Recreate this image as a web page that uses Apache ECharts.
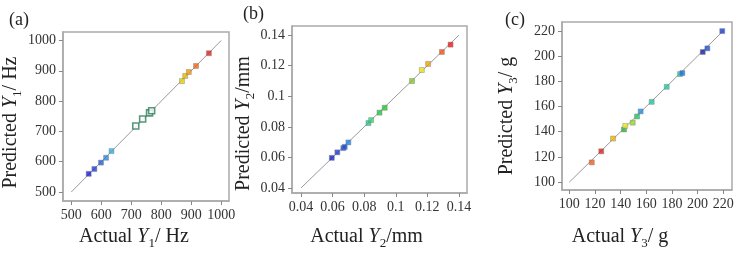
<!DOCTYPE html>
<html>
<head>
<meta charset="utf-8">
<script src="https://cdn.jsdelivr.net/npm/echarts@6/dist/echarts.min.js"></script>
<style>
  html, body { margin: 0; padding: 0; background: #fff; }
  #chart { width: 741px; height: 255px; }
</style>
</head>
<body>
<div id="chart"></div>
<script>
// (a) Y1 / Hz
const actualA = [558, 577, 599, 616, 634, 715, 738, 761, 768, 869, 880, 892, 916, 959];
const predA = [560, 576, 597, 613, 635, 718, 741, 761, 768, 866, 883, 896, 916, 958];
const hollowA = [5, 6, 7, 8];
const ticksA = [500, 600, 700, 800, 900, 1000];
// (b) Y2 / mm
const actualB = [0.0595, 0.0630, 0.0668, 0.0677, 0.0700, 0.0827, 0.0844, 0.0897, 0.0930, 0.1103, 0.1165, 0.1205, 0.1292, 0.1347];
const predB = [0.0597, 0.0633, 0.0661, 0.0669, 0.0698, 0.0825, 0.0844, 0.0893, 0.0925, 0.1100, 0.1172, 0.1212, 0.1290, 0.1338];
const ticksB = [0.04, 0.06, 0.08, 0.1, 0.12, 0.14];
// (c) Y3 / g
const actualC = [117.5, 124.9, 134.1, 142.6, 143.6, 149.4, 152.8, 155.6, 164.2, 175.9, 186.3, 188.1, 204.0, 207.6, 219.2];
const predC = [115.7, 124.5, 134.6, 141.8, 144.6, 147.2, 152.1, 156.1, 163.7, 175.6, 185.7, 186.5, 203.2, 206.1, 219.8];
const ticksC = [100, 120, 140, 160, 180, 200, 220];

// 点的颜色
const colorsA = ['#1a1ad6', '#1a3fd6', '#1f5fd8', '#2a86dc', '#2cb3dc', '#fff', '#fff', '#fff', '#fff',
  '#e6d000', '#f0b400', '#f09600', '#f06414', '#e61e1e'];
const colorsB = ['#1420c8', '#1a3cd6', '#1a50d6', '#1a50d6', '#1e82e6', '#1ec896', '#32d278', '#1ec83c',
  '#1ec828', '#82c81e', '#e6e614', '#f0a000', '#f05014', '#f01414'];
const colorsC = ['#f05a1e', '#e01e1e', '#f0b400', '#1eb43c', '#e6e61e', '#96d21e', '#1ec864', '#1e8ce6',
  '#1ec8a0', '#1ec8a0', '#1ec8a0', '#1e6ee6', '#1420a0', '#1a50d6', '#1a3cd6'];

const serif = 'Liberation Serif';
const rich = {
  t: { fontFamily: serif, fontSize: 20, color: '#222', lineHeight: 26 },
  i: { fontFamily: serif, fontSize: 20, color: '#222', lineHeight: 26, fontStyle: 'italic' },
  s: { fontFamily: serif, fontSize: 13, color: '#222', lineHeight: 14, verticalAlign: 'bottom' }
};

function axis(idx, min, max, ticks, name, gap, pad, rotate) {
  return {
    gridIndex: idx, type: 'value', min: min, max: max,
    name: name, nameLocation: 'middle', nameGap: gap, nameRotate: rotate,
    nameTextStyle: { rich: rich, padding: pad },
    axisLine: { show: true, lineStyle: { color: '#aaa', width: 1.5 } },
    axisTick: { show: true, length: 4, customValues: ticks, lineStyle: { color: '#888' } },
    axisLabel: {
      customValues: ticks, fontFamily: serif, fontSize: 14, color: '#333', margin: 7,
      formatter: v => String(v)
    },
    splitLine: { show: false }
  };
}

function pts(xs, ys) {
  return xs.map((x, i) => [x, ys[i]]);
}

function scatter(idx, xs, ys, colors, hollow) {
  hollow = hollow || [];
  return {
    type: 'scatter', xAxisIndex: idx, yAxisIndex: idx, symbol: 'rect', z: 3,
    data: pts(xs, ys).map((p, i) => {
      const h = hollow.indexOf(i) >= 0;
      return {
        value: p,
        symbolSize: h ? 6 : 5,
        itemStyle: {
          color: colors[i],
          borderColor: h ? '#2e7d5b' : '#777',
          borderWidth: h ? 1.6 : 0.5
        }
      };
    })
  };
}

function diag(idx, lo, hi) {
  return {
    type: 'line', xAxisIndex: idx, yAxisIndex: idx, symbol: 'none', z: 2,
    lineStyle: { color: '#999', width: 1 },
    data: [[lo, lo], [hi, hi]]
  };
}

const chart = echarts.init(document.getElementById('chart'));
chart.setOption({
  animation: false,
  title: [
    { text: '(a)', left: 4, top: 6, textStyle: { fontFamily: serif, fontSize: 18, fontWeight: 'normal', color: '#222' } },
    { text: '(b)', left: 238, top: 0, textStyle: { fontFamily: serif, fontSize: 18, fontWeight: 'normal', color: '#222' } },
    { text: '(c)', left: 500, top: 6, textStyle: { fontFamily: serif, fontSize: 18, fontWeight: 'normal', color: '#222' } }
  ],
  grid: [
    { left: 57, top: 32, width: 172, height: 174, show: true, borderColor: '#aaa', borderWidth: 1.5 },
    { left: 292, top: 26, width: 175, height: 174, show: true, borderColor: '#aaa', borderWidth: 1.5 },
    { left: 562, top: 22, width: 170, height: 172, show: true, borderColor: '#aaa', borderWidth: 1.5 }
  ],
  xAxis: [
    axis(0, 472, 1026, ticksA, '{t|Actual }{i|Y}{s|1}{t|/ Hz}', 22, [0, 24, 0, 0], 0),
    axis(1, 0.0343, 0.1451, ticksB, '{t|Actual }{i|Y}{s|2}{t|/mm}', 31, [0, 26, 0, 0], 0),
    axis(2, 94.3, 226.8, ticksC, '{t|Actual }{i|Y}{s|3}{t|/ g}', 34, [0, 54, 0, 0], 0)
  ],
  yAxis: [
    axis(0, 470, 1028, ticksA, '{t|Predicted }{i|Y}{s|1}{t|/ Hz}', 37, [0, 12, 0, 0], 90),
    axis(1, 0.0367, 0.1460, ticksB, '{t|Predicted }{i|Y}{s|2}{t|/mm}', 32, [0, 28, 0, 0], 90),
    axis(2, 93.8, 227, ticksC, '{t|Predicted }{i|Y}{s|3}{t|/ g}', 42, [0, 20, 0, 0], 90)
  ],
  series: [
    diag(0, 500, 1000),
    scatter(0, actualA, predA, colorsA, hollowA),
    diag(1, 0.04, 0.14),
    scatter(1, actualB, predB, colorsB),
    diag(2, 100, 220),
    scatter(2, actualC, predC, colorsC)
  ]
});
</script>
</body>
</html>
